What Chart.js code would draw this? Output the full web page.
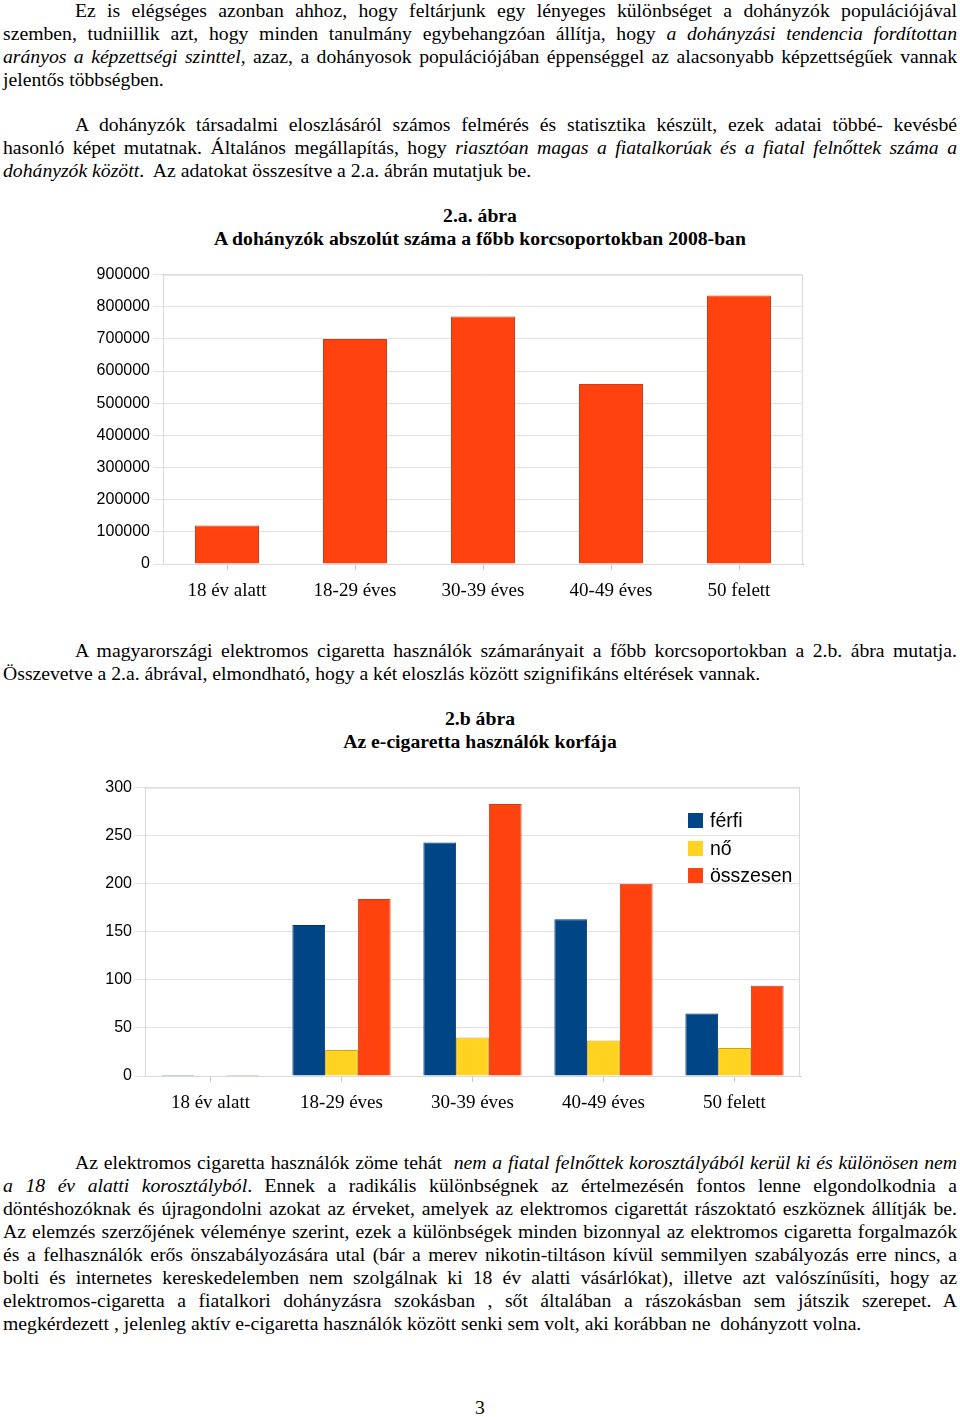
<!DOCTYPE html>
<html lang="hu">
<head>
<meta charset="UTF-8">
<title>Dohányzók és e-cigaretta használók korcsoportonként</title>
<script src="https://cdn.jsdelivr.net/npm/chart.js"></script>
<style>
    body { margin: 0; background: #fff; }
    .lap { position: relative; width: 960px; height: 1417px; font-family: 'Liberation Serif', 'Times New Roman', serif; font-size: 19.7px; color: #000; }
    .bekezdes { position: absolute; left: 3px; width: 954px; line-height: 23px; word-spacing: -1px; }
    .sor { text-align: justify; text-align-last: justify; }
    .sor.utolso { text-align-last: left; word-spacing: 0; }
    .sor.behuz { text-indent: 72px; }
    .abracim { position: absolute; left: 0; width: 960px; text-align: center; font-weight: bold; line-height: 23px; }
    .grafikon { position: absolute; }
    .jelmagyarazat { position: absolute; left: 688px; top: 811px; font-family: 'Liberation Sans', Arial, sans-serif; font-size: 19.5px; }
    .jelmagyarazat div { height: 27.5px; line-height: 19px; white-space: nowrap; }
    .jelmagyarazat span { display: inline-block; width: 15px; height: 15px; margin-right: 7px; vertical-align: -1px; }
    .oldalszam { position: absolute; top: 1396px; left: 0; width: 960px; text-align: center; }
</style>
</head>
<body>
<div class="lap">

    <div class="bekezdes" style="top:-1px">
        <div class="sor behuz">Ez is elégséges azonban ahhoz, hogy feltárjunk egy lényeges különbséget a dohányzók populációjával</div>
        <div class="sor">szemben, tudniillik azt, hogy minden tanulmány egybehangzóan állítja, hogy <i>a dohányzási tendencia fordítottan</i></div>
        <div class="sor"><i>arányos a képzettségi szinttel</i>, azaz, a dohányosok populációjában éppenséggel az alacsonyabb képzettségűek vannak</div>
        <div class="sor utolso">jelentős többségben.</div>
    </div>

    <div class="bekezdes" style="top:113px">
        <div class="sor behuz">A dohányzók társadalmi eloszlásáról számos felmérés és statisztika készült, ezek adatai többé- kevésbé</div>
        <div class="sor">hasonló képet mutatnak. Általános megállapítás, hogy <i>riasztóan magas a fiatalkorúak és a fiatal felnőttek száma a</i></div>
        <div class="sor utolso"><i>dohányzók között</i>.&nbsp; Az adatokat összesítve a 2.a. ábrán mutatjuk be.</div>
    </div>

    <div class="abracim" style="top:204px">2.a. ábra<br>A dohányzók abszolút száma a főbb korcsoportokban 2008-ban</div>

    <div class="grafikon" style="left:80px; top:262px; width:740px; height:342px;">
        <canvas id="chartDohanyzok"></canvas>
    </div>

    <div class="bekezdes" style="top:639px">
        <div class="sor behuz">A magyarországi elektromos cigaretta használók számarányait a főbb korcsoportokban a 2.b. ábra mutatja.</div>
        <div class="sor utolso">Összevetve a 2.a. ábrával, elmondható, hogy a két eloszlás között szignifikáns eltérések vannak.</div>
    </div>

    <div class="abracim" style="top:707px">2.b ábra<br>Az e-cigaretta használók korfája</div>

    <div class="grafikon" style="left:80px; top:775px; width:740px; height:341px;">
        <canvas id="chartEcigi"></canvas>
    </div>
    <div class="jelmagyarazat" id="jelmagyarazat"></div>

    <div class="bekezdes" style="top:1151px">
        <div class="sor behuz">Az elektromos cigaretta használók zöme tehát&nbsp; <i>nem a fiatal felnőttek korosztályából kerül ki és különösen nem</i></div>
        <div class="sor"><i>a 18 év alatti korosztályból</i>. Ennek a radikális különbségnek az értelmezésén fontos lenne elgondolkodnia a</div>
        <div class="sor">döntéshozóknak és újragondolni azokat az érveket, amelyek az elektromos cigarettát rászoktató eszköznek állítják be.</div>
        <div class="sor">Az elemzés szerzőjének véleménye szerint, ezek a különbségek minden bizonnyal az elektromos cigaretta forgalmazók</div>
        <div class="sor">és a felhasználók erős önszabályozására utal (bár a merev nikotin-tiltáson kívül semmilyen szabályozás erre nincs, a</div>
        <div class="sor">bolti és internetes kereskedelemben nem szolgálnak ki 18 év alatti vásárlókat), illetve azt valószínűsíti, hogy az</div>
        <div class="sor">elektromos-cigaretta a fiatalkori dohányzásra szokásban , sőt általában a rászokásban sem játszik szerepet. A</div>
        <div class="sor utolso">megkérdezett , jelenleg aktív e-cigaretta használók között senki sem volt, aki korábban ne&nbsp; dohányzott volna.</div>
    </div>

    <div class="oldalszam">3</div>
</div>

<script>
// korcsoportok (mindkét ábra)
const korcsoportok = ['18 év alatt', '18-29 éves', '30-39 éves', '40-49 éves', '50 felett'];

// 2.a. ábra - dohányzók száma 2008
const dohanyzokSzama = [120000, 700000, 770000, 560000, 835000];

// 2.b ábra - e-cigaretta használók
const ferfi = [1, 157, 243, 163, 65];
const no = [0, 27, 40, 37, 29];
const osszesen = [1, 184, 283, 200, 94];
const sorozatNevek = ['férfi', 'nő', 'összesen'];

const kek = '#004586';
const sarga = '#ffd320';
const piros = '#ff420e';

// keret a rajzterület köré
const keretPlugin = {
    id: 'keret',
    beforeDatasetsDraw(chart) {
        const a = chart.chartArea;
        const ctx = chart.ctx;
        ctx.save();
        ctx.strokeStyle = '#d9d9d9';
        ctx.lineWidth = 1;
        ctx.strokeRect(a.left + 0.5, a.top + 0.5, a.right - a.left - 1, a.bottom - a.top);
        ctx.restore();
    }
};

function tengelyek(max, lepes, yWidth) {
    return {
        x: {
            grid: { drawOnChartArea: false, offset: false, tickLength: 6, color: '#c8c8c8' },
            border: { color: '#b3b3b3' },
            ticks: { color: '#000', padding: 10, font: { family: 'Liberation Serif', size: 19 } },
            afterFit(s) { s.height = 40; }
        },
        y: {
            min: 0, max: max,
            grid: { color: '#e3e3e3', tickLength: 10 },
            border: { color: '#b3b3b3' },
            ticks: {
                stepSize: lepes, color: '#000', padding: 3,
                font: { family: 'Liberation Sans', size: 16 },
                callback: v => String(v)
            },
            afterFit(s) { s.width = yWidth; }
        }
    };
}

Chart.defaults.animation = false;

new Chart(document.getElementById('chartDohanyzok'), {
    type: 'bar',
    data: {
        labels: korcsoportok,
        datasets: [{
            label: 'Dohányzók száma',
            data: dohanyzokSzama,
            backgroundColor: piros,
            borderColor: '#c8401a',
            borderWidth: 1,
            barPercentage: 1,
            categoryPercentage: 0.5
        }]
    },
    options: {
        responsive: true,
        maintainAspectRatio: false,
        layout: { padding: { top: 12, right: 17, left: 0, bottom: 0 } },
        plugins: { legend: { display: false }, tooltip: { enabled: false } },
        scales: tengelyek(900000, 100000, 83)
    },
    plugins: [keretPlugin]
});

new Chart(document.getElementById('chartEcigi'), {
    type: 'bar',
    data: {
        labels: korcsoportok,
        datasets: [
            { label: sorozatNevek[0], data: ferfi, backgroundColor: kek, borderColor: '#003566', borderWidth: 1 },
            { label: sorozatNevek[1], data: no, backgroundColor: sarga, borderColor: '#c8a418', borderWidth: 1 },
            { label: sorozatNevek[2], data: osszesen, backgroundColor: piros, borderColor: '#c8401a', borderWidth: 1 }
        ]
    },
    options: {
        responsive: true,
        maintainAspectRatio: false,
        datasets: { bar: { barPercentage: 1, categoryPercentage: 0.75 } },
        layout: { padding: { top: 12, right: 20, left: 0, bottom: 0 } },
        plugins: { legend: { display: false }, tooltip: { enabled: false } },
        scales: tengelyek(300, 50, 65)
    },
    plugins: [keretPlugin]
});

// jelmagyarázat a 2.b ábrához
const jm = document.getElementById('jelmagyarazat');
[kek, sarga, piros].forEach((szin, i) => {
    const sor = document.createElement('div');
    sor.innerHTML = '<span style="background:' + szin + '"></span>' + sorozatNevek[i];
    jm.appendChild(sor);
});
</script>
</body>
</html>
